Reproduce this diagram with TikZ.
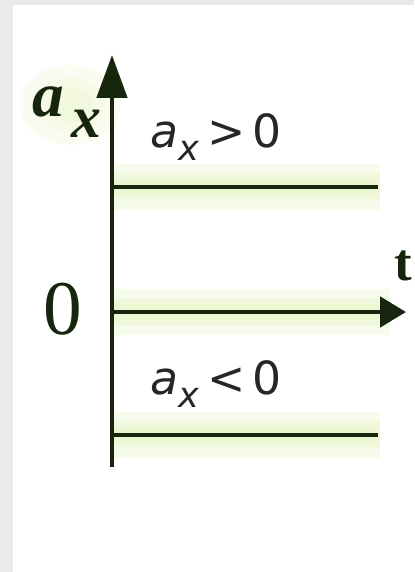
\documentclass[tikz,border=0pt]{standalone}
\usepackage{fontspec}
\setmainfont{Liberation Serif}
\newfontfamily\labelsans{DejaVu Sans}
\usetikzlibrary{arrows.meta}
\definecolor{bggrey}{RGB}{236,234,233}
\definecolor{glow}{RGB}{230,244,190}
\definecolor{ink}{RGB}{22,38,12}
\tikzset{
  axisline/.style={ink, line width=2.8pt},
  levelline/.style={ink, line width=2.8pt},
  glowline/.style={glow, opacity=0.3},
  sanslabel/.style={inner sep=0pt, anchor=west, font=\labelsans\fontsize{26}{30}\selectfont, text=black!85},
  seriflabel/.style={inner sep=0pt, text=ink}
}
\begin{document}
\begin{tikzpicture}[x=0.02cm, y=-0.02cm]
\useasboundingbox (0,0) rectangle (414,572);
\fill[bggrey] (0,0) rectangle (414,572);
\fill[white] (13,5) rectangle (414,572);
% soft highlight glow
\foreach \w in {26,16,9} {
  \draw[glowline, line width=\w pt] (114,187) -- (380,187);
  \draw[glowline, line width=\w pt] (114,312) -- (390,312);
  \draw[glowline, line width=\w pt] (114,435) -- (380,435);
}
\foreach \r in {1,0.7,0.45} {
  \fill[glow, opacity=0.2] (70,105) ellipse ({50*\r} and {40*\r});
}
% coordinates
\coordinate (origin) at (112,312);
\coordinate (ytop) at (112,55);
\coordinate (ybot) at (112,467);
\coordinate (xend) at (406,312);
\coordinate (upL) at (112,187);
\coordinate (upR) at (378,187);
\coordinate (loL) at (112,435);
\coordinate (loR) at (378,435);
% axes
\draw[axisline, -{Triangle[length=0.86cm, width=0.6cm]}] (ybot) -- (ytop);
\draw[axisline, -{Triangle[length=0.52cm, width=0.6cm]}] (origin) -- (xend);
% level lines
\draw[levelline] (upL) -- (upR);
\draw[levelline] (loL) -- (loR);
% labels
\node[seriflabel, font=\bfseries\itshape\fontsize{36}{40}\selectfont] (alab) at (48,102) {a};
\node[seriflabel, font=\bfseries\itshape\fontsize{34}{40}\selectfont] (xlab) at (86,124) {x};
\node[seriflabel, font=\fontsize{44}{48}\selectfont] (zero) at (63,309) {0};
\node[seriflabel, font=\bfseries\fontsize{30}{34}\selectfont] (tlab) at (403,266) {t};
\node[sanslabel] (pos) at (150,137) {\textit{a}\raisebox{-0.3em}{\fontsize{20}{24}\selectfont\textit{x}}\,>\,0};
\node[sanslabel] (neg) at (150,384) {\textit{a}\raisebox{-0.3em}{\fontsize{20}{24}\selectfont\textit{x}}\,<\,0};
\end{tikzpicture}
\end{document}
